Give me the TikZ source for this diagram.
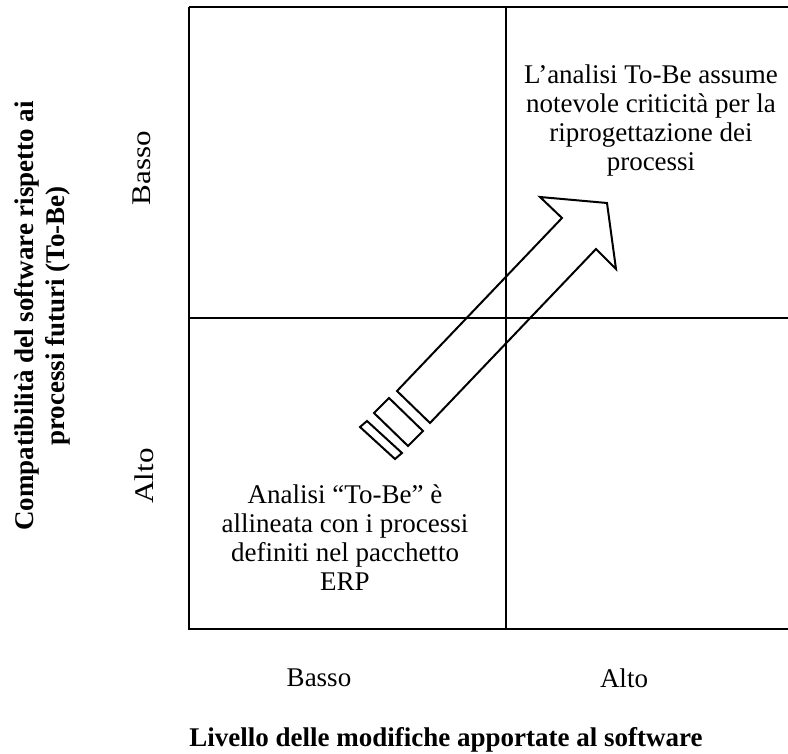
\documentclass[tikz,border=0pt]{standalone}
\usepackage{fontspec}
\setmainfont{Liberation Serif}
\usetikzlibrary{positioning,calc}

\begin{document}
\begin{tikzpicture}[x=0.5pt,y=-0.5pt,font=\fontsize{13.5}{14.5}\selectfont]
\tikzset{
  GR/.style={line width=1pt,black},
  AR/.style={line width=1pt,black,line join=miter},
  lb/.style={inner sep=0pt,align=center},
  nt/.style={inner sep=0pt,align=center,font=\fontsize{13.5}{14.5}\selectfont},
  ax/.style={inner sep=0pt,align=center,font=\fontsize{13.5}{15.5}\selectfont\bfseries},
}
\useasboundingbox (0,0) rectangle (788,754);

% quadrant grid
\draw[GR](189,7)--(788,7);
\draw[GR](189,7)--(189,629)--(788,629);
\draw[GR](506,7)--(506,629);
\draw[GR](189,318)--(788,318);

% big arrow from lower-left to upper-right
\draw[AR](397,391)--(562,218)--(540,197)--(607,203)--(616,269)--(596,249)--(430,423)--cycle;
\draw[AR](389,398)--(423,431)--(408,446)--(374,413)--cycle;
\draw[AR](367,421)--(402,453)--(395,459)--(360,427)--cycle;

\node[nt](crit) at (651,121){L’analisi To-Be assume\\notevole criticità per la\\riprogettazione dei\\processi};
\node[nt](allin) at (345,538){Analisi “To-Be” è\\allineata con i processi\\definiti nel pacchetto\\ERP};

\node[lb,rotate=90](ybasso) at (142,168){\scalebox{1.15}[1]{Basso}};
\node[lb,rotate=90](yalto)  at (144,476){\scalebox{1.15}[1]{Alto}};
\node[ax,rotate=90](ytitle) at (42,316){Compatibilità del software rispetto ai\\processi futuri (To-Be)};

\node[lb](xbasso) at (319,678){Basso};
\node[lb](xalto)  at (624,678){Alto};
\node[ax](xtitle) at (446,740){Livello delle modifiche apportate al software};

\end{tikzpicture}
\end{document}
